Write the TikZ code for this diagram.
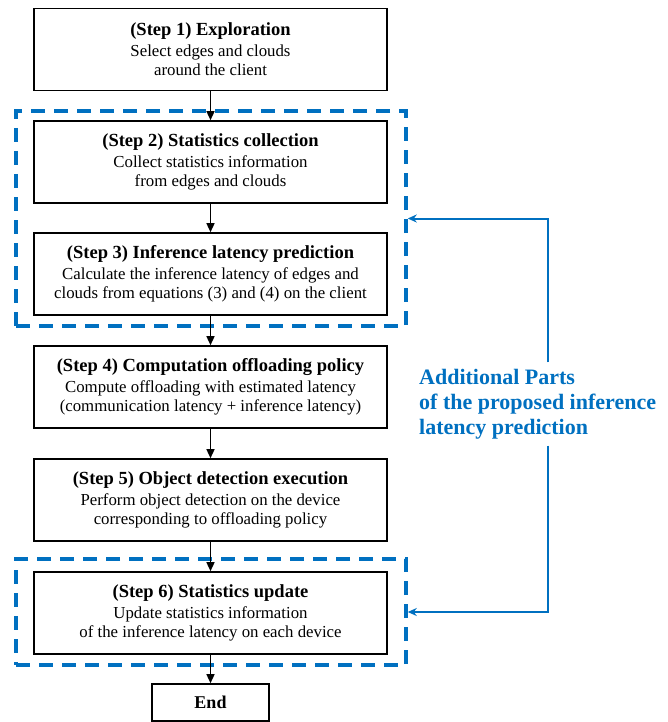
\documentclass[tikz,border=0pt]{standalone}
\usepackage{fontspec}
\setmainfont{Liberation Serif}
\usetikzlibrary{arrows.meta}
\definecolor{partblue}{RGB}{0,112,192}
\tikzset{
  stepbox/.style={draw, line width=1.6pt, minimum width=353pt, minimum height=82pt,
    inner sep=0pt, align=center, font=\fontsize{16.8}{19}\selectfont},
  endbox/.style={draw, line width=1.6pt, minimum width=117pt, minimum height=37pt,
    inner sep=0pt, font=\fontsize{18}{19}\selectfont\bfseries},
  partbox/.style={draw=partblue, line width=3.5pt, dash pattern=on 14pt off 9pt},
  flow/.style={-{Triangle[length=9pt,width=8pt]}, line width=1.4pt},
  fb/.style={-{Stealth[length=9pt,width=8pt]}, draw=partblue, line width=2pt},
}
\newcommand{\steptitle}[1]{{\fontsize{18.5}{19}\selectfont\bfseries #1}\\[2pt]}
\begin{document}
\begin{tikzpicture}[x=1pt, y=1pt]
  \useasboundingbox (0,0) rectangle (667,-722);
  % dashed frames
  \node[partbox, minimum width=390pt, minimum height=215pt] (dash1) at (211,-218.5) {};
  \node[partbox, minimum width=390pt, minimum height=106pt] (dash2) at (211,-612) {};
  % steps
  \node[stepbox] (s1) at (210.5,-49.5) {\steptitle{(Step 1) Exploration}
    Select edges and clouds\\ around the client};
  \node[stepbox] (s2) at (210.5,-162) {\steptitle{(Step 2) Statistics collection}
    Collect statistics information\\ from edges and clouds};
  \node[stepbox] (s3) at (210.5,-274) {\steptitle{(Step 3) Inference latency prediction}
    Calculate the inference latency of edges and\\ clouds from equations (3) and (4) on the client};
  \node[stepbox] (s4) at (210.5,-387) {\steptitle{(Step 4) Computation offloading policy}
    Compute offloading with estimated latency\\ (communication latency + inference latency)};
  \node[stepbox] (s5) at (210.5,-500) {\steptitle{(Step 5) Object detection execution}
    Perform object detection on the device\\ corresponding to offloading policy};
  \node[stepbox] (s6) at (210.5,-613) {\steptitle{(Step 6) Statistics update}
    Update statistics information\\ of the inference latency on each device};
  \node[endbox] (end) at (210.5,-702.5) {End};
  \draw[flow] (s1) -- (s2);
  \draw[flow] (s2) -- (s3);
  \draw[flow] (s3) -- (s4);
  \draw[flow] (s4) -- (s5);
  \draw[flow] (s5) -- (s6);
  \draw[flow] (s6) -- (end);
  % note on the right
  \node[anchor=west, align=left, text=partblue, inner xsep=0pt, inner ysep=6.5pt,
    font=\fontsize{22}{25}\selectfont\bfseries] (note) at (419,-404)
    {Additional Parts\\ of the proposed inference\\ latency prediction};
  \coordinate (fbx) at (548,0);
  \draw[fb] (note.north -| fbx) |- (dash1.east);
  \draw[fb] (note.south -| fbx) |- (dash2.east);
\end{tikzpicture}
\end{document}
